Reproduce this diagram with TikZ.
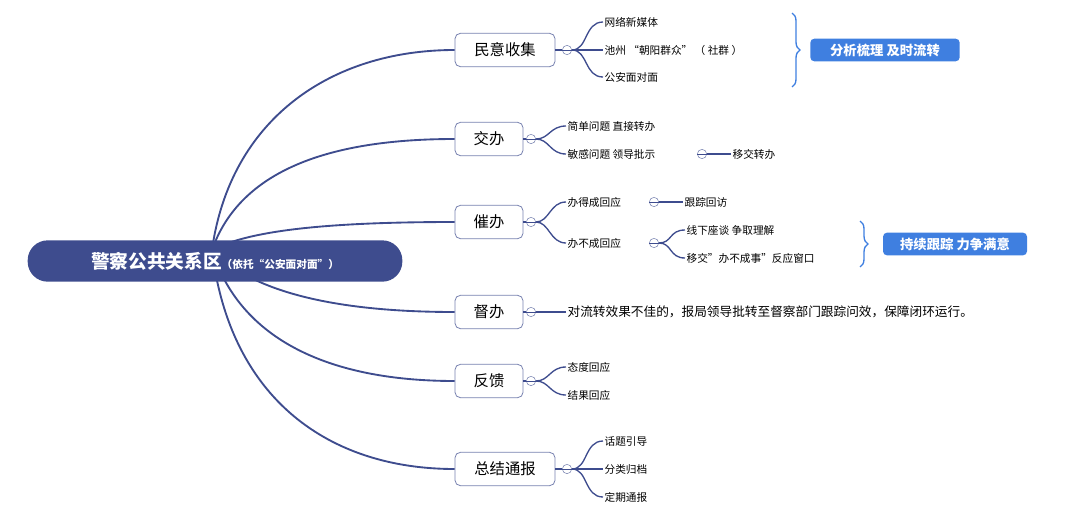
\documentclass[tikz,border=0pt]{standalone}
\usepackage{fontspec}
\setmainfont{Noto Sans CJK SC}
\usetikzlibrary{decorations.pathreplacing}
\definecolor{navy}{HTML}{3E4C8E}
\definecolor{lblue}{HTML}{3F7FE0}
\tikzset{
 br/.style={navy,line width=1.4pt},
 sb/.style={navy,line width=1pt},
 topic/.style={draw=navy!70,fill=white,rounded corners=4pt,line width=0.6pt,minimum height=25pt,font=\fontsize{11.5}{12}\selectfont,inner sep=0pt},
 leaf/.style={anchor=west,font=\fontsize{8}{9}\selectfont,inner sep=1pt},
 fold/.style={circle,draw=navy!70,fill=white,inner sep=0pt,minimum size=7pt},
 tag/.style={fill=lblue,rounded corners=3pt,text=white,font=\bfseries\fontsize{10}{11}\selectfont,minimum height=17pt,inner xsep=6pt},
 brc/.style={draw=lblue,line width=1pt,decorate,decoration={brace,amplitude=6pt}}
}
\begin{document}
\begin{tikzpicture}[x=0.75pt,y=-0.75pt]
\useasboundingbox (0,0) rectangle (1080,514);
% topics
\node[topic,minimum width=75pt] (t1) at (505,50) {民意收集};
\node[topic,minimum width=51pt] (t2) at (489,139) {交办};
\node[topic,minimum width=51pt] (t3) at (489,222) {催办};
\node[topic,minimum width=51pt] (t4) at (489,312) {督办};
\node[topic,minimum width=51pt] (t5) at (489,381) {反馈};
\node[topic,minimum width=75pt] (t6) at (505,469) {总结通报};
\coordinate (r0) at (212,250);
\draw[br] (r0) .. controls (230,120) and (330,50) .. (t1.west);
\draw[br] (r0) .. controls (240,170) and (330,139) .. (t2.west);
\draw[br] (r0) .. controls (250,230) and (330,222) .. (t3.west);
\draw[br] (r0) .. controls (250,290) and (330,312) .. (t4.west);
\draw[br] (r0) .. controls (240,340) and (330,381) .. (t5.west);
\draw[br] (r0) .. controls (230,400) and (330,469) .. (t6.west);
% root
\node[fill=navy,rounded corners=15pt,minimum width=281pt,minimum height=31pt,text=white] (root) at (215,261)
 {\bfseries\fontsize{14}{15}\selectfont 警察公共关系区\fontsize{8}{9}\selectfont（依托“公安面对面”）};
% fold circles
\node[fold] (f1) at (567,50) {}; \node[fold] (f2) at (531,139) {}; \node[fold] (f3) at (531,222) {};
\node[fold] (f4) at (531,312) {}; \node[fold] (f5) at (531,381) {}; \node[fold] (f6) at (567,469) {};
\foreach \f in {f1,f2,f3,f4,f5,f6}{\draw[navy,line width=0.5pt] (\f.west)--(\f.east);}
\foreach \t/\f in {t1/f1,t2/f2,t3/f3,t4/f4,t5/f5,t6/f6}{\draw[sb] (\t.east)--(\f.west);}
% leaves t1
\node[leaf] (a1) at (603,22) {网络新媒体};
\node[leaf] (a2) at (603,50) {池州 “朝阳群众” （ 社群 ）};
\node[leaf] (a3) at (603,77) {公安面对面};
\foreach \n in {a1,a2,a3}{\draw[sb] (f1.east) .. controls ([xshift=12pt]f1.east) and ([xshift=-14pt]\n.west) .. (\n.west);}
% t2
\node[leaf] (b1) at (566,126) {简单问题 直接转办};
\node[leaf] (b2) at (566,154) {敏感问题 领导批示};
\foreach \n in {b1,b2}{\draw[sb] (f2.east) .. controls ([xshift=10pt]f2.east) and ([xshift=-12pt]\n.west) .. (\n.west);}
\node[fold] (f2b) at (702,154) {}; \draw[navy,line width=0.5pt] (f2b.west)--(f2b.east);
\node[leaf] (b3) at (731,154) {移交转办};
\draw[sb] (f2b.east)--(b3.west);
% t3
\node[leaf] (c1) at (566,202) {办得成回应};
\node[leaf] (c2) at (566,243) {办不成回应};
\foreach \n in {c1,c2}{\draw[sb] (f3.east) .. controls ([xshift=10pt]f3.east) and ([xshift=-12pt]\n.west) .. (\n.west);}
\node[fold] (f3a) at (654,202) {}; \draw[navy,line width=0.5pt] (f3a.west)--(f3a.east);
\node[leaf] (c3) at (683,202) {跟踪回访};
\draw[sb] (f3a.east)--(c3.west);
\node[fold] (f3b) at (654,243) {}; \draw[navy,line width=0.5pt] (f3b.west)--(f3b.east);
\node[leaf] (c4) at (685,230) {线下座谈 争取理解};
\node[leaf] (c5) at (685,258) {移交"办不成事"反应窗口};
\foreach \n in {c4,c5}{\draw[sb] (f3b.east) .. controls ([xshift=10pt]f3b.east) and ([xshift=-12pt]\n.west) .. (\n.west);}
% t4
\node[leaf,font=\fontsize{9.5}{10}\selectfont] (d1) at (566,312) {对流转效果不佳的，报局领导批转至督察部门跟踪问效，保障闭环运行。};
\draw[sb] (f4.east)--(d1.west);
% t5
\node[leaf] (e1) at (566,367) {态度回应};
\node[leaf] (e2) at (566,395) {结果回应};
\foreach \n in {e1,e2}{\draw[sb] (f5.east) .. controls ([xshift=10pt]f5.east) and ([xshift=-12pt]\n.west) .. (\n.west);}
% t6
\node[leaf] (g1) at (603,441) {话题引导};
\node[leaf] (g2) at (603,469) {分类归档};
\node[leaf] (g3) at (603,497) {定期通报};
\foreach \n in {g1,g2,g3}{\draw[sb] (f6.east) .. controls ([xshift=12pt]f6.east) and ([xshift=-14pt]\n.west) .. (\n.west);}
% braces and tags
\coordinate (bt1) at (792,13); \coordinate (bb1) at (792,87);
\draw[brc] (bt1) -- (bb1);
\node[tag,minimum width=112pt] (tag1) at (885,50) {分析梳理 及时流转};
\coordinate (bt2) at (860,221); \coordinate (bb2) at (860,267);
\draw[brc] (bt2) -- (bb2);
\node[tag,minimum width=108pt] (tag2) at (955,244) {持续跟踪 力争满意};
\end{tikzpicture}
\end{document}
